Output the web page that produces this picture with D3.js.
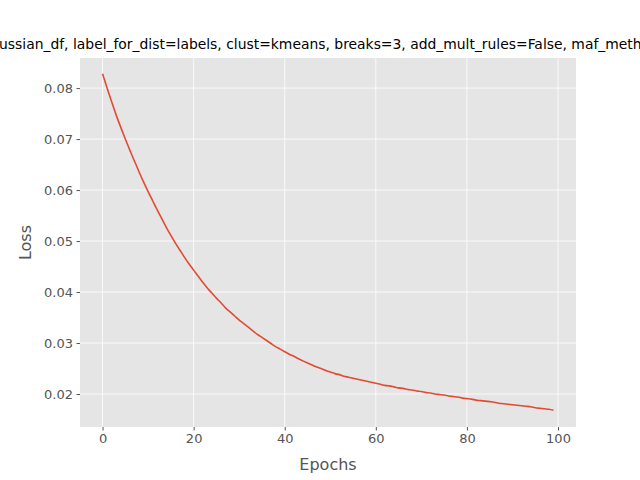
<!DOCTYPE html>
<html><head><meta charset="utf-8">
<script src="https://cdn.jsdelivr.net/npm/d3@7"></script>
<style>body{margin:0;background:#fff}text{font-family:"DejaVu Sans",sans-serif}</style>
</head><body><svg id="chart"></svg>
<script>
// loss per epoch
const lossValues = [
  .0828,.0800,.0773,.0747,.0723,.0700,.0678,.0657,.0636,.0616,
  .0597,.0579,.0561,.0544,.0527,.0511,.0496,.0482,.0468,.0455,
  .0443,.0431,.0419,.0408,.0398,.0388,.0379,.0369,.0361,.0353,
  .0345,.0338,.0331,.0324,.0317,.0311,.0305,.0299,.0293,.0288,
  .0283,.0278,.0274,.0269,.0265,.0261,.0257,.0253,.0250,.0246,
  .0243,.0240,.0238,.0235,.0233,.0231,.0229,.0227,.0225,.0223,
  .0221,.0219,.0217,.0216,.0214,.0212,.0211,.0209,.0208,.0206,
  .0205,.0203,.0202,.0200,.0199,.0198,.0196,.0195,.0194,.0192,
  .0191,.0190,.0188,.0187,.0186,.0185,.0184,.0182,.0181,.0180,
  .0179,.0178,.0177,.0176,.0175,.0173,.0172,.0171,.0170,.0168];
const epochs = lossValues.map((d, i) => i);
const xTicks = [0, 20, 40, 60, 80, 100];
const yTicks = [0.02, 0.03, 0.04, 0.05, 0.06, 0.07, 0.08];
const titleText = 'ussian_df, label_for_dist=labels, clust=kmeans, breaks=3, add_mult_rules=False, maf_method=';

const width = 640, height = 480;
const m = {left: 80, right: 64, top: 58, bottom: 53};

const svg = d3.select('#chart').attr('width', width).attr('height', height);

const x = d3.scaleLinear().domain([-4.95, 103.95]).range([m.left, width - m.right]);
const y = d3.scaleLinear().domain([0.01353, 0.0859]).range([height - m.bottom, m.top]);

svg.append('rect')
    .attr('x', m.left).attr('y', m.top)
    .attr('width', width - m.left - m.right)
    .attr('height', height - m.top - m.bottom)
    .attr('fill', '#e5e5e5');

// grid
svg.append('g').selectAll('line').data(xTicks).enter().append('line')
    .attr('x1', d => x(d)).attr('x2', d => x(d))
    .attr('y1', m.top).attr('y2', height - m.bottom)
    .attr('stroke', 'white').attr('stroke-width', 0.8);
svg.append('g').selectAll('line').data(yTicks).enter().append('line')
    .attr('y1', d => y(d)).attr('y2', d => y(d))
    .attr('x1', m.left).attr('x2', width - m.right)
    .attr('stroke', 'white').attr('stroke-width', 0.8);

// axes
const xAxis = svg.append('g')
    .attr('transform', `translate(0,${height - m.bottom})`)
    .call(d3.axisBottom(x).tickValues(xTicks).tickSize(3.5).tickPadding(3.5));
const yAxis = svg.append('g')
    .attr('transform', `translate(${m.left},0)`)
    .call(d3.axisLeft(y).tickValues(yTicks).tickFormat(d3.format('.2f')).tickSize(3.5).tickPadding(3.5));
[xAxis, yAxis].forEach(a => {
    a.select('.domain').remove();
    a.selectAll('.tick line').attr('stroke', '#555');
    a.selectAll('.tick text').attr('fill', '#555').style('font-size', '13px');
});

svg.append('path')
    .datum(epochs)
    .attr('fill', 'none')
    .attr('stroke', '#e24a33')
    .attr('stroke-width', 1.6)
    .attr('d', d3.line().curve(d3.curveMonotoneX).x(d => x(d)).y(d => y(lossValues[d])));

svg.append('text')
    .attr('x', (m.left + width - m.right) / 2).attr('y', 470)
    .attr('text-anchor', 'middle').attr('fill', '#555')
    .style('font-size', '16px').text('Epochs');
svg.append('text')
    .attr('transform', `translate(31,${(m.top + height - m.bottom) / 2}) rotate(-90)`)
    .attr('text-anchor', 'middle').attr('fill', '#555')
    .style('font-size', '16px').text('Loss');
svg.append('text')
    .attr('x', -1).attr('y', 49)
    .style('font-size', '13.9px').text(titleText);
</script></body></html>
